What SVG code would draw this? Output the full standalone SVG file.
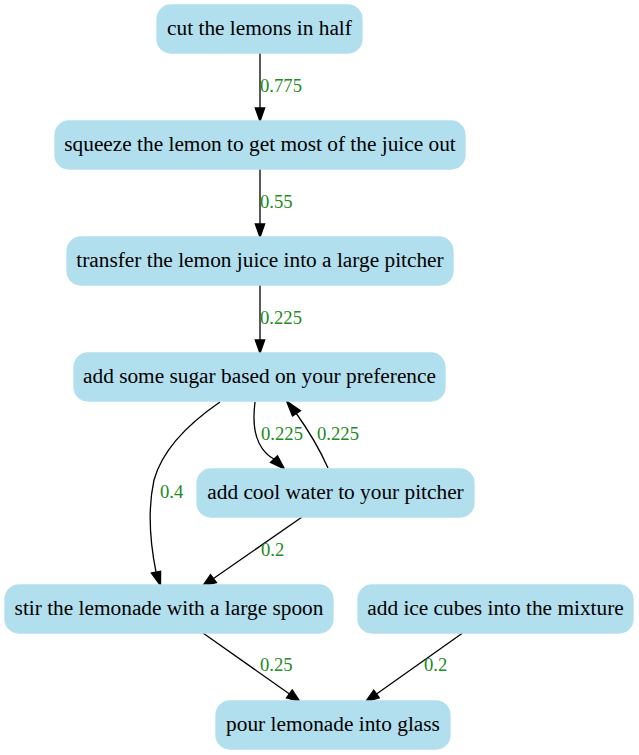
<svg xmlns="http://www.w3.org/2000/svg" width="639" height="755" viewBox="0 0 639 755">
<defs>
<style>
.node rect{fill:#b2dfee;stroke:#b2dfee;stroke-width:1.3}
.node text{font-family:"Liberation Serif","Times New Roman",serif;font-size:21.33px;fill:#000;text-anchor:middle}
.edge path{fill:none;stroke:#000;stroke-width:1.3}
.edge polygon{fill:#000;stroke:#000;stroke-width:1.3}
.edge text{font-family:"Liberation Serif","Times New Roman",serif;font-size:18.67px;fill:#228b22}
</style>
</defs>
<rect x="0" y="0" width="639" height="755" fill="#fff"/>
<g id="edges">
<g class="edge" id="e1"><path d="M260,53 L260,108"/><polygon points="255.3,108 260,121.3 264.7,108"/><text x="260" y="92">0.775</text></g>
<g class="edge" id="e2"><path d="M260,169 L260,224"/><polygon points="255.3,224 260,237.3 264.7,224"/><text x="260" y="208">0.55</text></g>
<g class="edge" id="e3"><path d="M260,285 L260,340"/><polygon points="255.3,340 260,353.3 264.7,340"/><text x="260" y="324">0.225</text></g>
<g class="edge" id="e4"><path d="M220,402 C185,426 162,451 154,480 C147,512 150,542 156,572"/><polygon points="151.4,573 160.5,585.5 160.6,571.2"/><text x="160" y="498">0.4</text></g>
<g class="edge" id="e5"><path d="M255,402 C253,418 254,433 259,443 C263,451 268,456 274,459"/><polygon points="270.5,462.3 284.5,469 277.5,455.7"/><text x="261" y="440">0.225</text></g>
<g class="edge" id="e6"><path d="M328,468 C320,450 311,434 296,413"/><polygon points="292.5,416 286.5,401 300.5,410.8"/><text x="317" y="440">0.225</text></g>
<g class="edge" id="e7"><path d="M301.7,517.3 L213.5,578.5"/><polygon points="210.5,574.5 202.7,586 216.5,582.5"/><text x="261" y="556">0.2</text></g>
<g class="edge" id="e8"><path d="M203.3,633.3 L289.5,694"/><polygon points="286.5,697.8 300,701.7 292.2,690"/><text x="260" y="671">0.25</text></g>
<g class="edge" id="e9"><path d="M462.3,633.3 L376.5,694"/><polygon points="373.8,690.2 365.7,701.7 379.3,697.8"/><text x="424" y="671">0.2</text></g>
</g>
<g class="node" id="n1"><rect x="157" y="5" width="205" height="48" rx="14" ry="14"/><text x="259.5" y="35">cut the lemons in half</text></g>
<g class="node" id="n2"><rect x="55" y="121" width="410" height="48" rx="14" ry="14"/><text x="260" y="151">squeeze the lemon to get most of the juice out</text></g>
<g class="node" id="n3"><rect x="67" y="237" width="386" height="48" rx="14" ry="14"/><text x="260" y="267">transfer the lemon juice into a large pitcher</text></g>
<g class="node" id="n4"><rect x="74" y="353" width="371" height="48" rx="14" ry="14"/><text x="259.5" y="383">add some sugar based on your preference</text></g>
<g class="node" id="n5"><rect x="197" y="469" width="277" height="48" rx="14" ry="14"/><text x="335.5" y="499">add cool water to your pitcher</text></g>
<g class="node" id="n6"><rect x="5" y="585" width="328" height="48" rx="14" ry="14"/><text x="169" y="615">stir the lemonade with a large spoon</text></g>
<g class="node" id="n7"><rect x="358" y="585" width="275" height="48" rx="14" ry="14"/><text x="495.5" y="615">add ice cubes into the mixture</text></g>
<g class="node" id="n8"><rect x="216" y="701" width="234" height="48" rx="14" ry="14"/><text x="333" y="731">pour lemonade into glass</text></g>
</svg>
